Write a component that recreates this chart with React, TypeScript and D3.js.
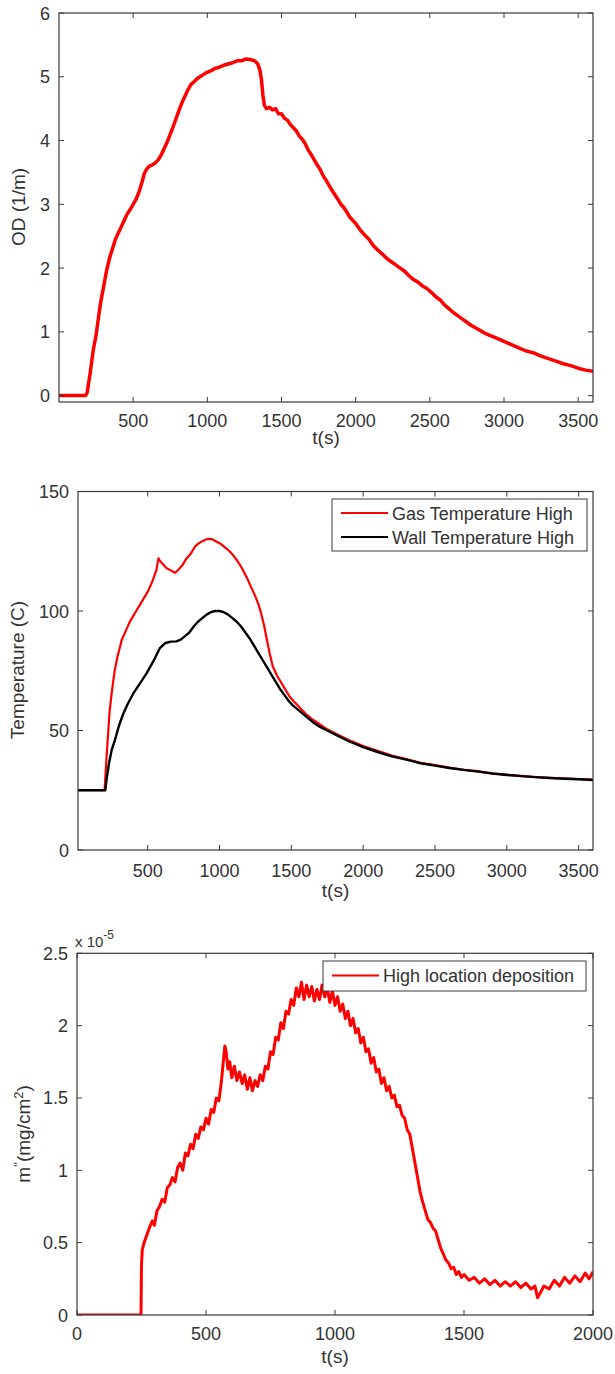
import React from "react";
import * as d3 from "d3";

// ---------- DATA ----------
// Chart 1: optical density vs time
const odT = [0, 180, 190, 210, 230, 250, 265, 280, 300, 320, 340, 360, 380, 400, 420, 440, 460, 480, 500, 520, 540, 560, 575, 590, 610, 630, 650, 670, 690, 710, 730, 750, 770, 790, 810, 830, 850, 870, 890, 910, 930, 950, 970, 990, 1010, 1030, 1050, 1080, 1110, 1140, 1170, 1200, 1230, 1260, 1290, 1320, 1340, 1355, 1365, 1375, 1385, 1400, 1420, 1440, 1460, 1480, 1500, 1520, 1540, 1560, 1580, 1600, 1620, 1640, 1660, 1680, 1700, 1720, 1740, 1760, 1780, 1800, 1820, 1840, 1860, 1880, 1900, 1920, 1940, 1960, 1980, 2000, 2030, 2060, 2090, 2120, 2150, 2180, 2210, 2240, 2270, 2300, 2330, 2360, 2390, 2420, 2450, 2480, 2510, 2540, 2570, 2600, 2630, 2660, 2690, 2720, 2750, 2780, 2810, 2840, 2870, 2900, 2950, 3000, 3050, 3100, 3150, 3200, 3250, 3300, 3350, 3400, 3450, 3500, 3550, 3600];
const odV = [0, 0.0, 0.05, 0.35, 0.7, 0.95, 1.2, 1.45, 1.7, 1.95, 2.15, 2.3, 2.45, 2.55, 2.65, 2.75, 2.85, 2.92, 3.0, 3.08, 3.2, 3.35, 3.48, 3.55, 3.6, 3.62, 3.65, 3.7, 3.78, 3.88, 3.98, 4.1, 4.22, 4.35, 4.48, 4.6, 4.7, 4.8, 4.88, 4.92, 4.97, 5.0, 5.03, 5.06, 5.08, 5.1, 5.13, 5.15, 5.18, 5.2, 5.22, 5.25, 5.25, 5.28, 5.27, 5.25, 5.2, 5.1, 4.95, 4.7, 4.55, 4.5, 4.52, 4.48, 4.5, 4.42, 4.42, 4.35, 4.32, 4.25, 4.2, 4.15, 4.07, 4.02, 3.95, 3.85, 3.78, 3.7, 3.62, 3.55, 3.45, 3.38, 3.3, 3.22, 3.15, 3.08, 3.0, 2.95, 2.88, 2.8, 2.75, 2.7, 2.6, 2.52, 2.45, 2.35, 2.28, 2.22, 2.15, 2.1, 2.05, 2.0, 1.95, 1.88, 1.82, 1.78, 1.72, 1.68, 1.62, 1.55, 1.5, 1.42, 1.36, 1.3, 1.25, 1.2, 1.15, 1.1, 1.06, 1.02, 0.98, 0.95, 0.9, 0.85, 0.8, 0.75, 0.7, 0.67, 0.62, 0.58, 0.54, 0.5, 0.47, 0.43, 0.4, 0.38];

// Chart 2: temperatures vs time
const gasT = [15, 200, 215, 235, 250, 270, 290, 320, 350, 380, 420, 460, 500, 530, 560, 575, 585, 600, 630, 660, 690, 710, 740, 770, 800, 830, 860, 890, 920, 950, 980, 1010, 1040, 1070, 1100, 1130, 1160, 1190, 1220, 1250, 1270, 1290, 1310, 1330, 1350, 1370, 1400, 1430, 1460, 1490, 1520, 1560, 1600, 1650, 1700, 1750, 1800, 1900, 2000, 2100, 2200, 2300, 2400, 2500, 2600, 2700, 2800, 2900, 3000, 3100, 3200, 3300, 3400, 3500, 3600];
const gasV = [25, 25, 40, 58, 66, 75, 81, 88, 92, 96, 100, 104, 108, 112, 117, 122, 121, 120, 118, 117, 116, 117, 119, 122, 124, 127, 128.5, 129.5, 130.2, 130, 129, 128, 126.5, 125, 123, 120.5, 117.5, 114, 110, 106, 103, 99, 94, 88, 82, 77, 73, 70, 67, 64, 62, 59.5, 57, 54.5, 52.5, 50.5, 49, 46, 43.5, 41.5, 39.5, 38, 36.5, 35.5, 34.5, 33.5, 33, 32, 31.5, 31, 30.5, 30.2, 30, 29.7, 29.5];
const wallT = [15, 205, 215, 230, 250, 272, 300, 330, 360, 400, 450, 493, 540, 585, 620, 660, 700, 730, 760, 790, 820, 850, 880, 910, 940, 970, 1000, 1030, 1060, 1090, 1120, 1150, 1180, 1210, 1240, 1270, 1300, 1330, 1360, 1390, 1420, 1450, 1480, 1510, 1550, 1600, 1650, 1700, 1750, 1800, 1900, 2000, 2100, 2200, 2300, 2400, 2500, 2600, 2700, 2800, 2900, 3000, 3100, 3200, 3300, 3400, 3500, 3600];
const wallV = [25, 25, 30, 36, 42, 46, 52, 57, 61, 65.5, 70, 74, 79, 84.5, 86.5, 87.2, 87.3, 88, 89.5, 91, 93.5, 95.5, 97, 98.5, 99.5, 100, 100, 99.5, 98.5, 97, 95.5, 93.5, 91, 88.5, 85.5, 82.5, 79.5, 76.5, 73.5, 70.5, 67.5, 65, 62.5, 60.5, 58.5, 56, 53.5, 51.5, 50, 48.5, 45.5, 43, 41, 39.2, 37.8, 36.3, 35.3, 34.3, 33.5, 32.8, 32, 31.4, 30.9, 30.5, 30.1, 29.8, 29.6, 29.3];

// Chart 3: deposition (x 1e-5 mg/cm2) vs time
const depT = [0, 248, 250, 253, 260, 270, 280, 292, 300, 310, 320, 330, 340, 350, 360, 370, 380, 390, 400, 410, 420, 430, 440, 450, 460, 470, 480, 490, 500, 510, 520, 530, 540, 550, 560, 567, 573, 578, 585, 592, 600, 610, 620, 630, 640, 650, 660, 670, 680, 690, 700, 710, 720, 730, 740, 750, 760, 770, 780, 790, 800, 810, 820, 830, 840, 850, 860, 870, 880, 890, 900, 910, 920, 930, 940, 950, 960, 970, 980, 990, 1000, 1010, 1020, 1030, 1040, 1050, 1060, 1070, 1080, 1090, 1100, 1110, 1120, 1130, 1140, 1150, 1160, 1170, 1180, 1190, 1200, 1210, 1220, 1230, 1240, 1250, 1260, 1270, 1280, 1290, 1300, 1310, 1320, 1330, 1340, 1350, 1360, 1370, 1380, 1390, 1400, 1410, 1420, 1430, 1440, 1450, 1460, 1470, 1480, 1490, 1500, 1520, 1540, 1560, 1580, 1600, 1620, 1640, 1660, 1680, 1700, 1720, 1740, 1760, 1775, 1785, 1795, 1810, 1830, 1850, 1870, 1890, 1910, 1930, 1950, 1970, 1985, 2000];
const depV = [0, 0, 0.35, 0.45, 0.5, 0.55, 0.6, 0.65, 0.62, 0.72, 0.75, 0.8, 0.78, 0.88, 0.9, 0.95, 0.92, 1.02, 1.05, 1.0, 1.12, 1.1, 1.18, 1.15, 1.25, 1.22, 1.3, 1.28, 1.36, 1.32, 1.42, 1.4, 1.5, 1.48, 1.62, 1.75, 1.86, 1.82, 1.7, 1.75, 1.64, 1.72, 1.62, 1.68, 1.6, 1.66, 1.56, 1.64, 1.55, 1.62, 1.58, 1.66, 1.62, 1.72, 1.7, 1.82, 1.8, 1.92, 1.9, 2.02, 1.98, 2.1, 2.08, 2.18, 2.14, 2.26, 2.2, 2.3, 2.18, 2.28, 2.2, 2.27, 2.17, 2.25, 2.18, 2.28, 2.2, 2.26, 2.16, 2.24, 2.14, 2.2, 2.1, 2.15, 2.05, 2.1, 2.0, 2.05, 1.95, 1.98, 1.88, 1.92, 1.82, 1.84, 1.74, 1.78, 1.68, 1.7, 1.6, 1.64, 1.55, 1.58, 1.5, 1.52, 1.44, 1.45, 1.38, 1.36, 1.28, 1.25, 1.15, 1.05, 0.95, 0.85, 0.78, 0.72, 0.66, 0.64, 0.6, 0.58, 0.52, 0.46, 0.42, 0.38, 0.36, 0.32, 0.33, 0.28, 0.3, 0.26, 0.28, 0.24, 0.26, 0.22, 0.25, 0.21, 0.24, 0.2, 0.23, 0.2, 0.23, 0.19, 0.22, 0.18, 0.2, 0.12, 0.15, 0.2, 0.18, 0.24, 0.2, 0.26, 0.22, 0.27, 0.23, 0.29, 0.25, 0.3];

const odTicksX = [500, 1000, 1500, 2000, 2500, 3000, 3500];
const odTicksY = [0, 1, 2, 3, 4, 5, 6];
const tempTicksX = [500, 1000, 1500, 2000, 2500, 3000, 3500];
const tempTicksY = [0, 50, 100, 150];
const depTicksX = [0, 500, 1000, 1500, 2000];
const depTicksY = [0, 0.5, 1, 1.5, 2, 2.5];
const depTickLabelsY = ["0", "0.5", "1", "1.5", "2", "2.5"];

const FONT = "'Liberation Sans', Arial, sans-serif";
const AXIS = "#3a3a3a";
const TEXT = "#333";

type Series = { t: number[]; v: number[]; color: string; width: number; name?: string };

function Panel(props: {
  left: number; right: number; top: number; bottom: number;
  xDomain: [number, number]; yDomain: [number, number];
  xTicks: number[]; yTicks: number[]; yTickLabels?: string[];
  series: Series[]; xLabelOffset: number; tickLabelOffset: number;
}) {
  const { left, right, top, bottom, xDomain, yDomain, xTicks, yTicks, yTickLabels, series } = props;
  const x = d3.scaleLinear().domain(xDomain).range([left, right]);
  const y = d3.scaleLinear().domain(yDomain).range([bottom, top]);
  const tl = 5;
  return (
    <g>
      <defs>
        <clipPath id={`clip${Math.round(top)}`}>
          <rect x={left} y={top} width={right - left} height={bottom - top} />
        </clipPath>
      </defs>
      <g clipPath={`url(#clip${Math.round(top)})`}>
        {series.map((s, i) => {
          const pts: [number, number][] = s.t.map((t, j) => [t, s.v[j]]);
          const line = d3.line<[number, number]>().x((d) => x(d[0])).y((d) => y(d[1]));
          return <path key={i} d={line(pts) || ""} fill="none" stroke={s.color} strokeWidth={s.width} strokeLinejoin="round" />;
        })}
      </g>
      <rect x={left} y={top} width={right - left} height={bottom - top} fill="none" stroke={AXIS} strokeWidth={1.2} />
      {xTicks.map((t) => (
        <g key={`x${t}`}>
          <line x1={x(t)} x2={x(t)} y1={bottom} y2={bottom - tl} stroke={AXIS} />
          <line x1={x(t)} x2={x(t)} y1={top} y2={top + tl} stroke={AXIS} />
          <text x={x(t)} y={bottom + props.tickLabelOffset} textAnchor="middle" fontSize={18} fontFamily={FONT} fill={TEXT}>{t}</text>
        </g>
      ))}
      {yTicks.map((v, i) => (
        <g key={`y${v}`}>
          <line x1={left} x2={left + tl} y1={y(v)} y2={y(v)} stroke={AXIS} />
          <line x1={right} x2={right - tl} y1={y(v)} y2={y(v)} stroke={AXIS} />
          <text x={left - 9} y={y(v) + 6.5} textAnchor="end" fontSize={18} fontFamily={FONT} fill={TEXT}>{yTickLabels ? yTickLabels[i] : v}</text>
        </g>
      ))}
      <text x={(left + right) / 2} y={bottom + props.xLabelOffset} textAnchor="middle" fontSize={19} fontFamily={FONT} fill={TEXT}>t(s)</text>
    </g>
  );
}

export default function App() {
  return (
    <svg width={615} height={1374} style={{ position: "absolute", left: 0, top: 0, background: "#fff" }}>
      <rect x={0} y={0} width={615} height={1374} fill="#fff" />
      {/* Chart 1 */}
      <Panel left={59} right={593} top={13} bottom={402} xDomain={[0, 3600]} yDomain={[-0.1, 6]}
        xTicks={odTicksX} yTicks={odTicksY} tickLabelOffset={25} xLabelOffset={42}
        series={[{ t: odT, v: odV, color: "#ff0000", width: 3.5 }]} />
      <text transform="translate(25,207) rotate(-90)" textAnchor="middle" fontSize={19} fontFamily={FONT} fill={TEXT}>OD (1/m)</text>

      {/* Chart 2 */}
      <Panel left={78} right={593} top={491.5} bottom={850} xDomain={[15, 3600]} yDomain={[0, 150]}
        xTicks={tempTicksX} yTicks={tempTicksY} tickLabelOffset={27} xLabelOffset={47}
        series={[
          { t: gasT, v: gasV, color: "#ff0000", width: 2.2 },
          { t: wallT, v: wallV, color: "#000000", width: 2.4 },
        ]} />
      <text transform="translate(24,670) rotate(-90)" textAnchor="middle" fontSize={19} fontFamily={FONT} fill={TEXT}>Temperature (C)</text>
      <g>
        <rect x={332} y={499} width={255} height={52} fill="#fff" stroke={AXIS} strokeWidth={1} />
        <line x1={341} x2={388} y1={513} y2={513} stroke="#ff0000" strokeWidth={2} />
        <text x={392} y={519.5} fontSize={18} fontFamily={FONT} fill={TEXT}>Gas Temperature High</text>
        <line x1={341} x2={388} y1={537} y2={537} stroke="#000" strokeWidth={2} />
        <text x={392} y={543.5} fontSize={18} fontFamily={FONT} fill={TEXT}>Wall Temperature High</text>
      </g>

      {/* Chart 3 */}
      <Panel left={77} right={593} top={953.3} bottom={1315} xDomain={[0, 2000]} yDomain={[0, 2.5]}
        xTicks={depTicksX} yTicks={depTicksY} yTickLabels={depTickLabelsY} tickLabelOffset={25} xLabelOffset={48}
        series={[{ t: depT, v: depV, color: "#ff0000", width: 3 }]} />
      <text x={75} y={947} fontSize={15} fontFamily={FONT} fill={TEXT}>x 10<tspan dy={-8} fontSize={12}>-5</tspan></text>
      <text transform="translate(30,1134) rotate(-90)" textAnchor="middle" fontSize={19} fontFamily={FONT} fill={TEXT}>
        m<tspan dy={-7} fontSize={13}>''</tspan><tspan dy={7}>(mg/cm</tspan><tspan dy={-7} fontSize={13}>2</tspan><tspan dy={7}>)</tspan>
      </text>
      <g>
        <rect x={323} y={961} width={263} height={30} fill="#fff" stroke={AXIS} strokeWidth={1} />
        <line x1={332} x2={379} y1={975.5} y2={975.5} stroke="#ff0000" strokeWidth={2} />
        <text x={383} y={982} fontSize={18} fontFamily={FONT} fill={TEXT}>High location deposition</text>
      </g>
    </svg>
  );
}
